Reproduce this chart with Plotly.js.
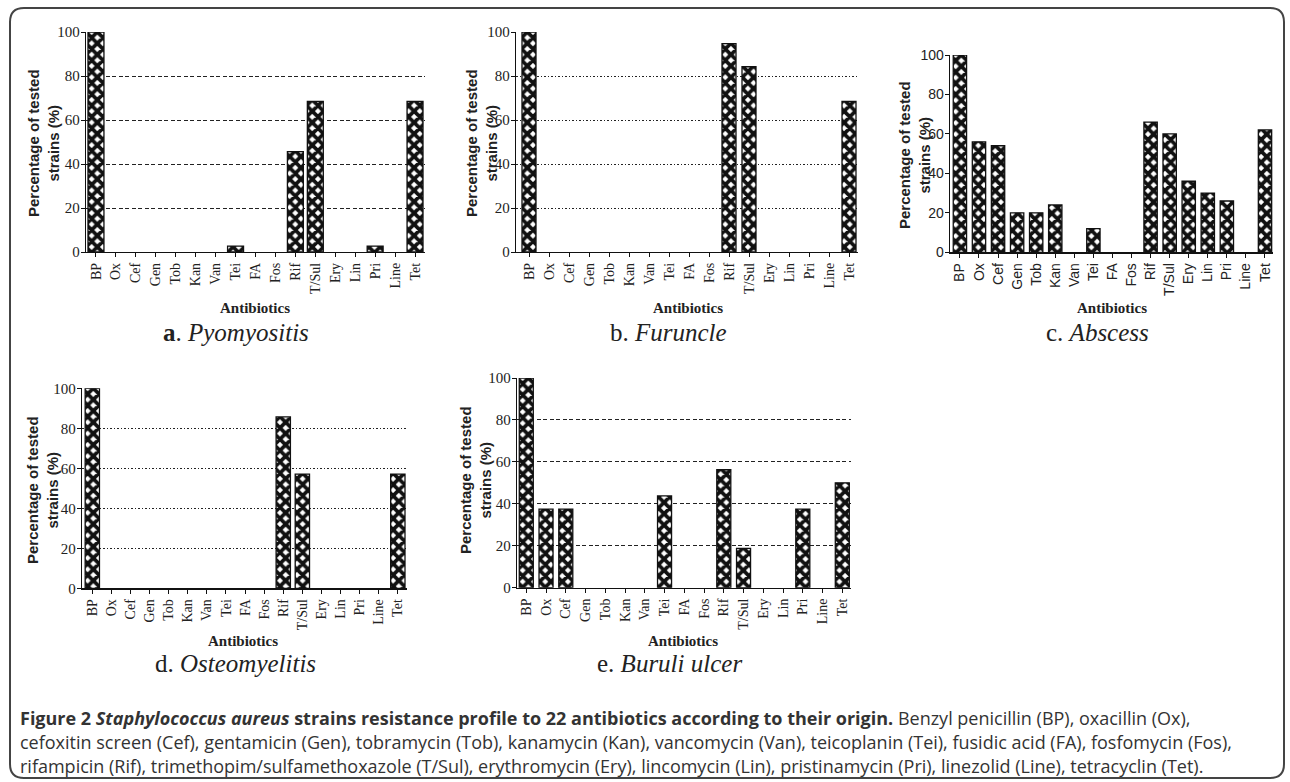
<!DOCTYPE html>
<html><head><meta charset="utf-8">
<script src="https://cdn.plot.ly/plotly-3.0.1.min.js"></script>
<style>html,body{margin:0;padding:0;background:#fff}#chart{width:1290px;height:782px}</style>
</head><body><div id="chart"></div>
<script>
// ---- data ----
const categories = ['BP','Ox','Cef','Gen','Tob','Kan','Van','Tei','FA','Fos','Rif','T/Sul','Ery','Lin','Pri','Line','Tet'];
const pyomyositis   = [100,0,0,0,0,0,0,2.7,0,0,45.6,68.5,0,0,2.7,0,68.5];
const furuncle      = [100,0,0,0,0,0,0,0,0,0,94.7,84.2,0,0,0,0,68.4];
const abscess       = [100,56,54,20,20,24,0,12,0,0,66,60,36,30,26,0,62];
const osteomyelitis = [100,0,0,0,0,0,0,0,0,0,85.7,57.1,0,0,0,0,57.1];
const buruliUlcer   = [100,37.5,37.5,0,0,0,0,43.75,0,0,56.25,18.75,0,0,37.5,0,50];
const yTicks = [0,20,40,60,80,100];
const panelLetters = ['a','b','c','d','e'];
const panelNames = ['Pyomyositis','Furuncle','Abscess','Osteomyelitis','Buruli ulcer'];
const yTitleLines = ['Percentage of tested','strains (%)'];
const xTitle = 'Antibiotics';
const captionLines = [
  '<b>Figure 2 <i>Staphylococcus aureus</i> strains resistance profile to 22 antibiotics according to their origin.</b> Benzyl penicillin (BP), oxacillin (Ox),',
  'cefoxitin screen (Cef), gentamicin (Gen), tobramycin (Tob), kanamycin (Kan), vancomycin (Van), teicoplanin (Tei), fusidic acid (FA), fosfomycin (Fos),',
  'rifampicin (Rif), trimethopim/sulfamethoxazole (T/Sul), erythromycin (Ery), lincomycin (Lin), pristinamycin (Pri), linezolid (Line), tetracyclin (Tet).'
];
const seriesList = [pyomyositis, furuncle, abscess, osteomyelitis, buruliUlcer];

// ---- layout geometry (pixels) ----
const W = 1290, H = 782;
const px = x => x / W;
const py = y => 1 - y / H;
const SERIF = 'Liberation Serif, Times New Roman, Times, serif';
const SANS = 'Liberation Sans, Arial, Helvetica, sans-serif';
const DASH = '4px,2.5px';
const DOT = '1.5px,2px';
const panels = [
  {x:[86,425],  y:[32,252],     xr:[-0.5,16.5],   bw:0.8,  grid:DASH, sans:false, yt:[43,143],  xt:[255,308], st:[236,333]},
  {x:[516,858], y:[32,252],     xr:[-0.65,16.45], bw:0.7,  grid:DOT,  sans:false, yt:[481,143], xt:[688,308], st:[668,333]},
  {x:[950,1273],y:[55,252.3],   xr:[-0.52,16.42], bw:0.7,  grid:null, sans:true,  yt:[914,155], xt:[1112,308],st:[1097,333]},
  {x:[82,407],  y:[388.3,588.3],xr:[-0.54,16.48], bw:0.75, grid:DOT,  sans:false, yt:[42,490],  xt:[243,641], st:[235,663]},
  {x:[517,851], y:[378,587.7],  xr:[-0.47,16.44], bw:0.71, grid:DASH, sans:false, yt:[475,480], xt:[683,641], st:[669,663]}
];

const data = [];
const layout = {
  width: W, height: H, margin:{l:0,r:0,t:0,b:0},
  paper_bgcolor:'#fff', plot_bgcolor:'#fff', showlegend:false,
  annotations: [], shapes: []
};

panels.forEach((p, i) => {
  const s = i === 0 ? '' : String(i + 1);
  const font = p.sans ? SANS : SERIF;
  data.push({
    type:'bar', x: categories, y: seriesList[i].map(v => v === 0 ? null : v), width: p.bw,
    xaxis:'x' + s, yaxis:'y' + s,
    marker:{color:'#fff', line:{color:'#111', width:1.3},
      pattern:{shape:'x', fgcolor:'#111', bgcolor:'#fff', size:8, solidity:0.72}},
    hoverinfo:'x+y'
  });
  layout['xaxis' + s] = {
    domain:[px(p.x[0]), px(p.x[1])], anchor:'y' + s, type:'category',
    range:p.xr, showline:true, linecolor:'#111', linewidth:1.3,
    ticks:'outside', ticklen:4, tickwidth:1, tickcolor:'#111',
    tickangle:-90, showgrid:false, zeroline:false, fixedrange:true,
    tickfont:{family:font, size:14, color:'#222'}
  };
  layout['yaxis' + s] = {
    domain:[py(p.y[1]), py(p.y[0])], anchor:'x' + s,
    range:[0,100], tickvals:yTicks, ticktext:yTicks.map(String),
    showline:true, linecolor:'#111', linewidth:1.3,
    ticks:'outside', ticklen:4, tickwidth:1, tickcolor:'#111', ticklabelstandoff:-2,
    showgrid: !!p.grid, gridcolor:'#222', gridwidth:1, griddash:p.grid || 'solid',
    zeroline:false, fixedrange:true,
    tickfont:{family:font, size:p.sans ? 14 : 15, color:'#222'}
  };
  layout.annotations.push({
    xref:'paper', yref:'paper', x:px(p.yt[0]), y:py(p.yt[1]), textangle:-90,
    text:yTitleLines.map(t => '<b>' + t + '</b>').join('<br>'), showarrow:false,
    xanchor:'center', yanchor:'middle',
    font:{family:SANS, size:15, color:'#222'}
  });
  layout.annotations.push({
    xref:'paper', yref:'paper', x:px(p.xt[0]), y:py(p.xt[1]),
    text:'<b>' + xTitle + '</b>', showarrow:false, xanchor:'center', yanchor:'middle',
    font:{family:SERIF, size:15, color:'#222'}
  });
  const letter = i === 0 ? '<b>' + panelLetters[i] + '</b>' : panelLetters[i];
  layout.annotations.push({
    xref:'paper', yref:'paper', x:px(p.st[0]), y:py(p.st[1]),
    text: letter + '. <i>' + panelNames[i] + '</i>', showarrow:false,
    xanchor:'center', yanchor:'middle',
    font:{family:SERIF, size:25, color:'#222'}
  });
});

const capY = [718, 742, 766];
captionLines.forEach((t, k) => {
  layout.annotations.push({
    xref:'paper', yref:'paper', x:px(18), y:py(capY[k]), text:t, showarrow:false,
    xanchor:'left', yanchor:'middle', align:'left',
    font:{family:'Open Sans', size:18, color:'#333'}
  });
});

// rounded frame
const L = 10, T = 8, R = 1284, B = 778, r = 14;
const path = [
  'M', px(L + r), py(T), 'L', px(R - r), py(T),
  'Q', px(R), py(T), px(R), py(T + r),
  'L', px(R), py(B - r),
  'Q', px(R), py(B), px(R - r), py(B),
  'L', px(L + r), py(B),
  'Q', px(L), py(B), px(L), py(B - r),
  'L', px(L), py(T + r),
  'Q', px(L), py(T), px(L + r), py(T), 'Z'
].join(' ');
layout.shapes.push({type:'path', xref:'paper', yref:'paper', path:path,
  line:{color:'#444', width:2}, fillcolor:'rgba(0,0,0,0)', layer:'below'});

Plotly.newPlot('chart', data, layout, {displayModeBar:false, staticPlot:true});
</script>
</body></html>
